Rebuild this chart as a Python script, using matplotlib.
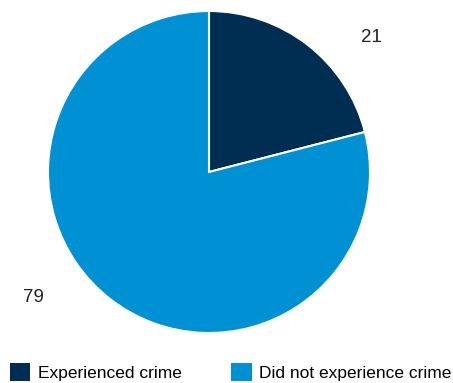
import matplotlib.pyplot as plt

labels = ['Experienced crime', 'Did not experience crime']
values = [21, 79]
colors = ['#002d52', '#0091d5']

plt.rcParams['font.family'] = ['Liberation Sans', 'DejaVu Sans']

fig = plt.figure(figsize=(4.53, 3.83), dpi=100)
ax = fig.add_axes([0, 0, 1, 1])

wedges, _ = ax.pie(values, colors=colors, startangle=90, counterclock=False,
                   center=(209, 211), radius=161, frame=True,
                   wedgeprops=dict(edgecolor='white', linewidth=1.5))
ax.set_xlim(0, 453)
ax.set_ylim(0, 383)
ax.axis('off')

# value labels
ax.text(371, 345, str(values[0]), fontsize=13.5, ha='center', va='center', color='#222222')
ax.text(33, 86, str(values[1]), fontsize=13.5, ha='center', va='center', color='#222222')

leg = ax.legend(wedges, labels, loc='lower left', bbox_to_anchor=(0.006, -0.012),
                ncol=2, frameon=False, fontsize=12.5, handlelength=1.2, handleheight=1.2,
                handletextpad=0.45, columnspacing=2.8, borderaxespad=0)
for h in leg.legend_handles:
    h.set_edgecolor('none')

fig.savefig('out.png', dpi=100)
